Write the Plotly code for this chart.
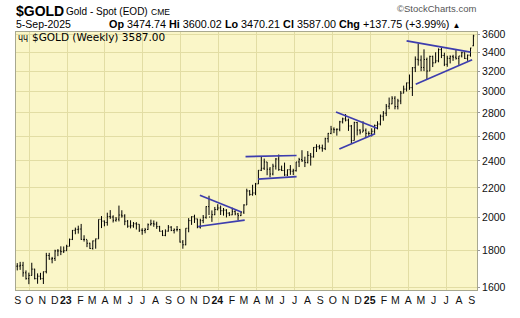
import math
import pandas as pd
import plotly.graph_objects as go

# ---------------- data (weekly bars, Fridays) ----------------
week_dates = pd.date_range('2022-09-02', '2025-09-05', freq='W-FRI')

open_2022 = [1711,1712,1716,1675,1644,1661,1695,1644,1657,1644,1681,1771,1751,1754,1797,1797,1793,1798]
high_2022 = [1728,1735,1735,1688,1676,1730,1697,1672,1675,1682,1786,1786,1763,1804,1808,1824,1823,1833]
low_2022 = [1688,1691,1654,1639,1615,1660,1640,1617,1638,1616,1672,1747,1727,1740,1767,1773,1785,1797]
close_2022 = [1712,1716,1675,1644,1661,1695,1644,1657,1644,1681,1771,1751,1754,1797,1797,1793,1798,1824]

open_2023 = [1824,1865,1920,1926, 1928,1865,1865,1842, 1811,1856,1868,1989,1978, 1969,2007,2004,1983,
             1990,2017,2011,1977, 1946,1948,1961,1958,1921, 1919,1925,1955,1962, 1959,1943,1914,1889,
             1915,1940,1919,1924,1925, 1849,1833,1933,1981, 2006,1992,1940,1981, 2002,2072,2004,2019,2053]
high_2023 = [1870,1922,1937,1949, 1960,1890,1863,1845, 1858,1870,1989,2010,1982, 2032,2049,2015,2004,
             2079,2048,2022,1985, 1983,1972,1971,1958,1933, 1935,1963,1987,1982, 1974,1948,1921,1926,
             1953,1946,1932,1947,1929, 1861,1933,1997,2009, 2019,1993,1993,2017, 2075,2146,2047,2070,2088]
low_2023 = [1824,1861,1896,1900, 1862,1852,1819,1809, 1805,1810,1868,1934,1945, 1949,1992,1969,1974,
            1976,2000,1952,1936, 1932,1936,1925,1910,1893, 1902,1922,1950,1942, 1929,1912,1885,1884,
            1912,1915,1901,1913,1846, 1810,1830,1908,1954, 1966,1933,1931,1965, 1993,2017,1973,2016,2047]
close_2023 = [1865,1920,1926,1928, 1865,1865,1842,1811, 1856,1868,1989,1978,1969, 2007,2004,1983,1990,
              2017,2011,1977,1946, 1948,1961,1958,1921,1919, 1925,1955,1962,1959, 1943,1914,1889,1915,
              1940,1919,1924,1925,1849, 1833,1933,1981,2006, 1992,1940,1981,2002, 2072,2004,2019,2053,2063]

open_2024 = [2063,2045,2049,2029, 2018,2039,2024,2013, 2036,2083,2179,2155,2165, 2229,2329,2344,2392,
             2337,2301,2360,2415,2334, 2327,2294,2333,2322, 2326,2392,2411,2401, 2387,2443,2431,2507,2512,
             2503,2497,2578,2622, 2658,2653,2657,2721, 2747,2736,2685,2563,2715, 2650,2633,2648,2622]
high_2024 = [2079,2063,2055,2036, 2065,2049,2031,2041, 2088,2195,2185,2223,2236, 2330,2431,2418,2392,
             2353,2378,2422,2450,2364, 2387,2335,2368,2340, 2392,2424,2484,2433, 2477,2462,2509,2532,2528,
             2529,2586,2626,2686, 2673,2665,2730,2758, 2790,2750,2694,2722,2721, 2657,2726,2664,2639]
low_2024 = [2017,2013,2001,2010, 2016,2015,1984,2010, 2024,2083,2146,2146,2150, 2228,2323,2331,2292,
            2277,2291,2334,2325,2323, 2287,2286,2295,2293, 2319,2353,2393,2353, 2381,2364,2426,2470,2491,
            2472,2485,2546,2615, 2624,2603,2640,2707, 2725,2643,2537,2563,2605, 2613,2633,2583,2602]
close_2024 = [2045,2049,2029,2018, 2039,2024,2013,2036, 2083,2179,2155,2165,2229, 2329,2344,2392,2337,
              2301,2360,2415,2334,2327, 2294,2333,2322,2326, 2392,2411,2401,2387, 2443,2431,2507,2512,2503,
              2497,2578,2622,2658, 2653,2657,2721,2747, 2736,2685,2563,2715,2650, 2633,2648,2622,2621]

open_2025 = [2621,2640,2690,2702,2771, 2798,2861,2883,2936, 2858,2910,2984,3023, 3084,3037,3238,3327,
             3319,3241,3325,3204,3358, 3289,3310,3432,3368, 3274,3337,3355,3350, 3337,3363,3398,3336,3371,
             3474.74]
high_2025 = [2665,2697,2726,2786,2817, 2882,2942,2955,2955, 2930,3005,3057,3087, 3168,3245,3358,3500,
             3368,3435,3345,3366,3366, 3403,3446,3452,3398, 3365,3369,3375,3439, 3363,3409,3401,3378,3453,
             3600.02]
low_2025 = [2596,2615,2656,2690,2731, 2772,2834,2880,2833, 2832,2880,2982,3000, 3016,2957,3193,3260,
            3202,3203,3120,3205,3245, 3288,3295,3340,3255, 3248,3283,3310,3324, 3268,3347,3330,3311,3355,
            3470.21]
close_2025 = [2640,2690,2702,2771,2798, 2861,2883,2936,2858, 2910,2984,3023,3084, 3037,3238,3327,3319,
              3241,3325,3204,3358,3289, 3310,3432,3368,3274, 3337,3355,3350,3337, 3363,3398,3336,3371,3449.25,
              3587.00]

opens = open_2022 + open_2023 + open_2024 + open_2025
highs = high_2022 + high_2023 + high_2024 + high_2025
lows = low_2022 + low_2023 + low_2024 + low_2025
closes = close_2022 + close_2023 + close_2024 + close_2025

# trendlines drawn on the chart (start date, start price, end date, end price)
trend_start_dates = ['2023-11-16', '2023-11-12', '2024-03-05', '2024-04-04',
                     '2024-10-09', '2024-10-17', '2025-03-28', '2025-04-19']
trend_start_prices = [2149, 1944, 2434, 2264, 2808, 2493, 3530, 3071]
trend_end_dates = ['2024-02-24', '2024-03-03', '2024-07-06', '2024-07-06',
                   '2025-01-16', '2025-01-11', '2025-08-29', '2025-09-02']
trend_end_prices = [2037, 1984, 2442, 2282, 2666, 2619, 3405, 3323]

# axis labels
y_tick_values = [1600, 1800, 2000, 2200, 2400, 2600, 2800, 3000, 3200, 3400, 3600]
x_label_dates = ['2022-09-03', '2022-10-01 06:00', '2022-11-01 06:00', '2022-12-01 06:00', '2022-12-28',
                 '2023-02-01 06:00', '2023-03-01 06:00', '2023-04-01 06:00', '2023-05-01 06:00',
                 '2023-06-01 06:00', '2023-07-01 06:00', '2023-08-01 06:00', '2023-09-01 06:00',
                 '2023-10-01 06:00', '2023-11-01 06:00', '2023-12-01 06:00', '2023-12-28',
                 '2024-02-01 06:00', '2024-03-01 06:00', '2024-04-01 06:00', '2024-05-01 06:00',
                 '2024-06-01 06:00', '2024-07-01 06:00', '2024-08-01 06:00', '2024-09-01 06:00',
                 '2024-10-01 06:00', '2024-11-01 06:00', '2024-12-01 06:00', '2024-12-29',
                 '2025-02-01 06:00', '2025-03-01 06:00', '2025-04-01 06:00', '2025-05-01 06:00',
                 '2025-06-01 06:00', '2025-07-01 06:00', '2025-08-01 06:00', '2025-09-01 06:00']
x_label_texts = ['S', 'O', 'N', 'D', '<b>23</b>', 'F', 'M', 'A', 'M', 'J', 'J', 'A', 'S', 'O', 'N', 'D',
                 '<b>24</b>', 'F', 'M', 'A', 'M', 'J', 'J', 'A', 'S', 'O', 'N', 'D', '<b>25</b>', 'F',
                 'M', 'A', 'M', 'J', 'J', 'A', 'S']
x_grid_dates = ['2022-10-01', '2023-01-01', '2023-04-01', '2023-07-01', '2023-10-01', '2024-01-01',
                '2024-04-01', '2024-07-01', '2024-10-01', '2025-01-01', '2025-04-01', '2025-07-01']

# ---------------- styling ----------------
W, H = 520, 318
L, R, T, B = 16, 477, 32, 299
BG = '#FAF6C8'
GRID = '#E2DDA4'
TREND = '#3D3DAE'
SANS = 'Liberation Sans, Arial, sans-serif'
VERD = 'DejaVu Sans, Verdana, sans-serif'


def px(x):
    return (x - L) / (R - L)


def py(y):
    return (B - y) / (B - T)


fig = go.Figure()

fig.add_trace(go.Ohlc(
    x=week_dates, open=opens, high=highs, low=lows, close=closes,
    increasing=dict(line=dict(color='black', width=1)),
    decreasing=dict(line=dict(color='black', width=1)),
    tickwidth=0.32, name='$GOLD', showlegend=False, hoverinfo='skip'))

tx, ty = [], []
for a, b, c, d in zip(trend_start_dates, trend_start_prices, trend_end_dates, trend_end_prices):
    tx += [a, c, None]
    ty += [b, d, None]
fig.add_trace(go.Scatter(x=tx, y=ty, mode='lines', line=dict(color=TREND, width=1.7),
                         showlegend=False, hoverinfo='skip'))

fig.update_layout(
    width=W, height=H,
    margin=dict(l=L, r=W - R, t=T, b=H - B, pad=0),
    paper_bgcolor='white', plot_bgcolor=BG,
    showlegend=False,
    xaxis=dict(type='date', range=['2022-08-30', '2025-09-13 16:00'],
               rangeslider=dict(visible=False),
               tickmode='array', tickvals=x_label_dates, ticktext=x_label_texts, tickangle=0,
               showgrid=False, ticks='', tickfont=dict(size=10.5, family=SANS, color='#111'),
               minor=dict(tickmode='array', tickvals=x_grid_dates, showgrid=True,
                          gridcolor=GRID, gridwidth=1, ticks=''),
               showline=True, mirror=True, linecolor='#A8A890', linewidth=1,
               zeroline=False, fixedrange=True),
    yaxis=dict(type='log', range=[math.log10(1585), math.log10(3632)], side='right',
               tickmode='array', tickvals=y_tick_values, ticktext=[str(v) for v in y_tick_values],
               showgrid=True, gridcolor=GRID, gridwidth=1,
               ticks='outside', ticklen=2, tickcolor='#999',
               tickfont=dict(size=10.5, family=SANS, color='#111'),
               showline=True, mirror=True, linecolor='#A8A890', linewidth=1,
               zeroline=False, fixedrange=True),
)

ann = [
    dict(x=px(15), y=py(10), text='<b>$GOLD</b>', font=dict(size=14, family=SANS, color='black')),
    dict(x=px(65), y=py(11), text='Gold - Spot (EOD)', font=dict(size=10, family=SANS, color='black')),
    dict(x=px(150), y=py(11.5), text='CME', font=dict(size=8.5, family=SANS, color='black')),
    dict(x=px(15), y=py(24), text='5-Sep-2025', font=dict(size=10.5, family=SANS, color='black')),
    dict(x=px(108), y=py(24),
         text='<b>Op</b> 3474.74 <b>Hi</b> 3600.02 <b>Lo</b> 3470.21 <b>Cl</b> 3587.00 '
              '<b>Chg</b> +137.75 (+3.99%) <span style="font-size:8px">▲</span>',
         font=dict(size=10.8, family=SANS, color='black')),
    dict(x=px(477), y=py(8), xanchor='right', text='©StockCharts.com',
         font=dict(size=9.5, family=SANS, color='#555')),
    dict(x=px(17), y=py(37.5), text='ɥɥ', font=dict(size=8, family=VERD, color='black')),
    dict(x=px(31), y=py(37), text='$GOLD (Weekly) 3587.00', font=dict(size=10.5, family=VERD, color='black')),
]
for a in ann:
    a.setdefault('xanchor', 'left')
    a.update(xref='paper', yref='paper', yanchor='middle', showarrow=False, borderpad=0)
    fig.add_annotation(**a)

fig.write_html('out.html')
